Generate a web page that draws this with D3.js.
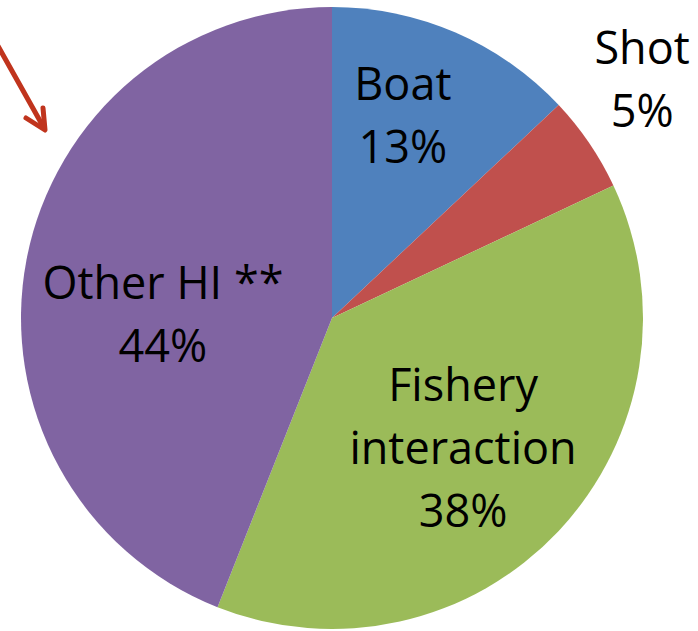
<!DOCTYPE html>
<html>
<head>
<meta charset="utf-8">
<script src="https://cdn.jsdelivr.net/npm/d3@7"></script>
<style>
  html, body { margin: 0; padding: 0; background: #ffffff; }
  svg { display: block; }
</style>
</head>
<body>
<svg id="chart" width="698" height="631"></svg>
<script>
// Causes of human interaction (HI) cases, in percent
const categories = ["Boat", "Shot", "Fishery interaction", "Other HI **"];
const values = [13, 5, 38, 44];
const colors = ["#4F81BD", "#C0504D", "#9BBB59", "#8064A2"];
// Label lines for each slice (name lines, then the percentage)
const labelLines = [["Boat"], ["Shot"], ["Fishery", "interaction"], ["Other HI **"]];

const width = 698, height = 631;
const cx = 332, cy = 318, radius = 311;
const fontFamily = "'Open Sans', 'Noto Sans', sans-serif";
const fontSize = 45;
const lineGap = 63;

// Label placement: distance from centre as a fraction of the radius,
// and an angular nudge (degrees) from the slice's mid-angle
const labelRadius = [0.642, 1.228, 0.631, 0.545];
const labelNudge = [-2.6, -1.5, 4.9, -14.9];

const svg = d3.select("#chart");

const pie = d3.pie().sort(null).value(d => d.value);
const arc = d3.arc().innerRadius(0).outerRadius(radius);

const data = categories.map((c, i) => ({ name: c, value: values[i], color: colors[i], lines: labelLines[i] }));
const arcs = pie(data);

const g = svg.append("g").attr("transform", `translate(${cx},${cy})`);

g.selectAll("path.slice")
  .data(arcs)
  .join("path")
  .attr("class", "slice")
  .attr("d", arc)
  .attr("fill", d => d.data.color);

const pct = d3.format(".0%");
const capHalf = fontSize * 0.357;

arcs.forEach((a, i) => {
  const r = radius * labelRadius[i];
  const ang = (a.startAngle + a.endAngle) / 2 + labelNudge[i] * Math.PI / 180;
  const lx = r * Math.sin(ang);
  const ly = -r * Math.cos(ang);
  const lines = a.data.lines.concat([pct(a.data.value / 100)]);
  const n = lines.length;
  const t = g.append("text")
    .attr("font-family", fontFamily)
    .attr("font-size", fontSize)
    .attr("fill", "#000")
    .attr("text-anchor", "middle");
  lines.forEach((line, k) => {
    t.append("tspan")
      .attr("x", lx)
      .attr("y", ly + (k - (n - 1) / 2) * lineGap)
      .text(line);
  });
});

// Red pointer arrow at upper left
const arrowColor = "#C0341D";
svg.append("line")
  .attr("x1", -2).attr("y1", 46)
  .attr("x2", 44).attr("y2", 128)
  .attr("stroke", arrowColor).attr("stroke-width", 5).attr("stroke-linecap", "round");
svg.append("polyline")
  .attr("points", "26,118 45,130 43,108")
  .attr("fill", "none")
  .attr("stroke", arrowColor).attr("stroke-width", 5)
  .attr("stroke-linecap", "round").attr("stroke-linejoin", "round");
</script>
</body>
</html>
